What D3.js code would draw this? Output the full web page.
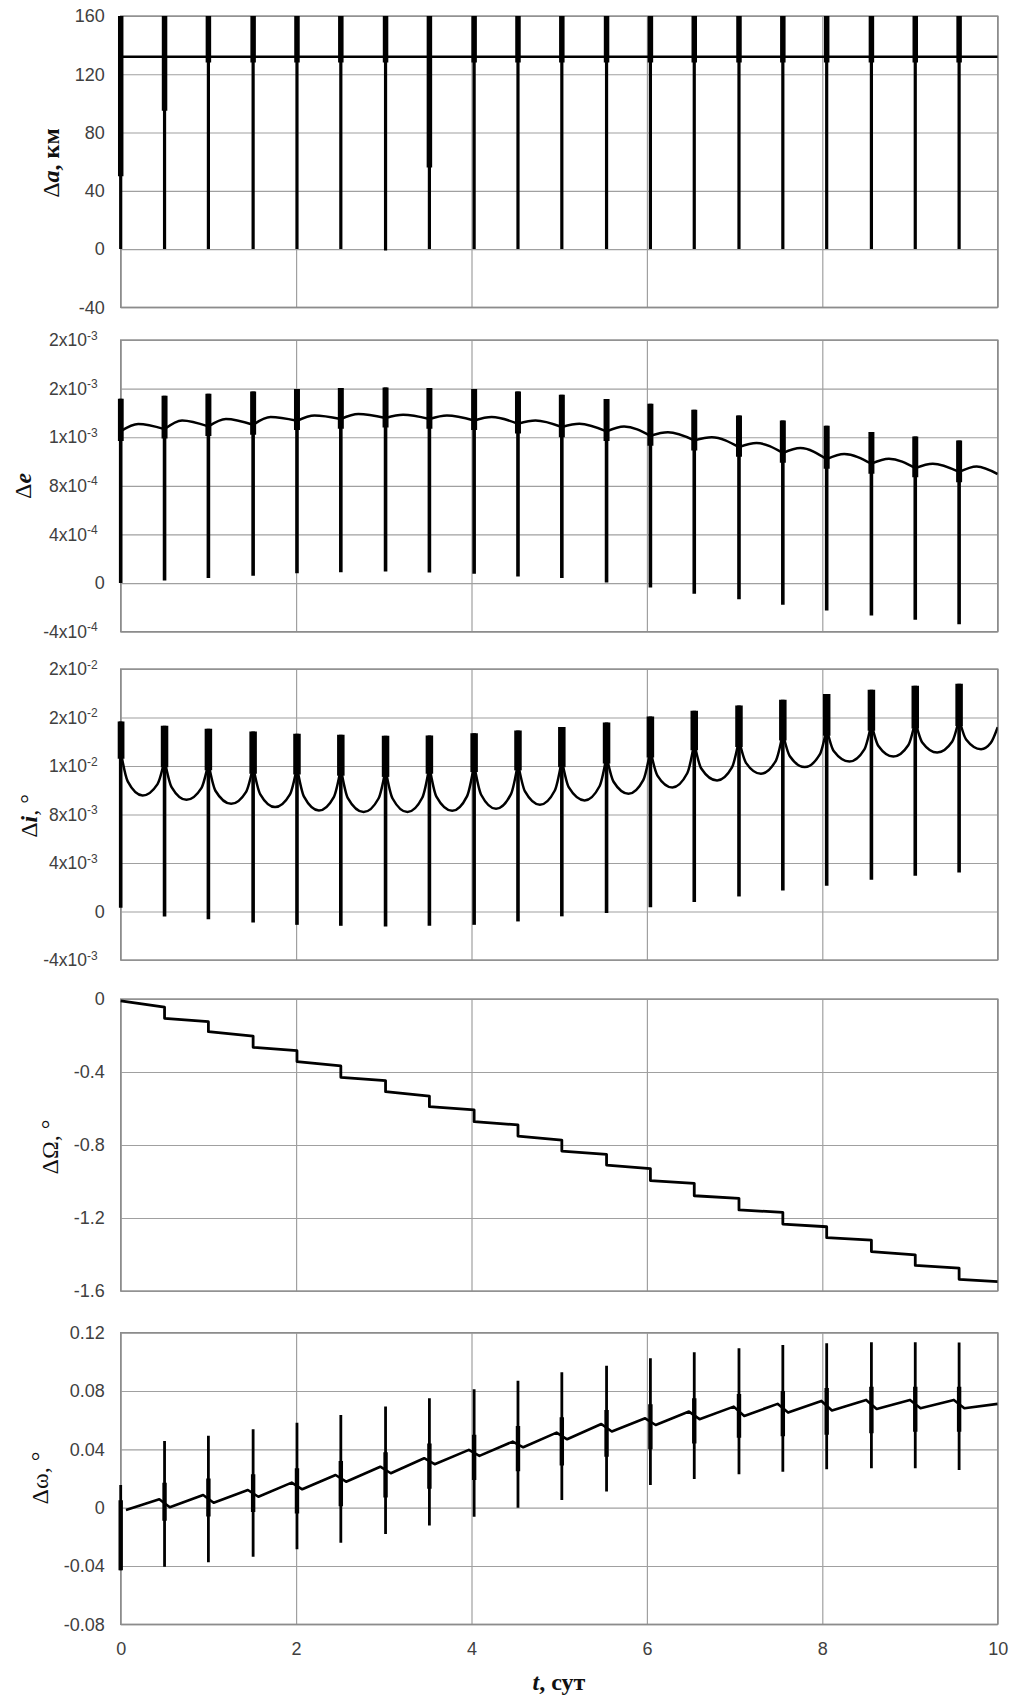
<!DOCTYPE html>
<html>
<head>
<meta charset="utf-8">
<script src="https://cdn.jsdelivr.net/npm/d3@7"></script>
<style>
body { margin: 0; background: #fff; }
svg { display: block; }
.grid .domain { display: none; }
.grid line { stroke: #a0a0a0; stroke-width: 1.2; }
.grid text { font-family: "Liberation Sans", Arial, sans-serif; font-size: 18px; fill: #404040; }
.ytitle, .xtitle { font-family: "Liberation Serif", "Times New Roman", serif; font-size: 24px; fill: #111; }
</style>
</head>
<body>
<script>
// days of the spikes (same for all five panels)
var spikeDays = [0, 0.50, 1.00, 1.51, 2.01, 2.51, 3.02, 3.52, 4.03, 4.53, 5.03, 5.54, 6.04, 6.54, 7.05, 7.55, 8.05, 8.56, 9.06, 9.56];
var xTicks = [0, 2, 4, 6, 8, 10];

// --- Δa, km
var aTicks = [-40, 0, 40, 80, 120, 160];
var aLevel = [[0, 132], [10, 132]];
var aSpikeHi = [160, 160, 160, 160, 160, 160, 160, 160, 160, 160, 160, 160, 160, 160, 160, 160, 160, 160, 160, 160];
var aSpikeLo = [0, 0, 0, 0, 0, 0, -1, 0, 0, 0, 0, 0, 0, 0, 0, 0, 0, 0, 0, 0];
var aBandLo = [50, 95, 128, 128, 128, 128, 128, 56, 128, 128, 128, 128, 128, 128, 128, 128, 128, 128, 128, 128];

// --- Δe, in units of 1e-3
var eTicks = [-0.4, 0, 0.4, 0.8, 1.2, 1.6, 2.0];
var eTickLabels = ["-4x10^-4", "0", "4x10^-4", "8x10^-4", "1x10^-3", "2x10^-3", "2x10^-3"];
var eDip = [1.25, 1.267, 1.289, 1.303, 1.335, 1.35, 1.358, 1.35, 1.338, 1.311, 1.284, 1.248, 1.212, 1.174, 1.119, 1.07, 1.02, 0.982, 0.946, 0.914, 0.897];
var ePeak = [[0.2, 1.309], [0.7, 1.338], [1.2, 1.35], [1.71, 1.366], [2.21, 1.379], [2.71, 1.391], [3.22, 1.385], [3.72, 1.379], [4.23, 1.366], [4.73, 1.338],
             [5.23, 1.311], [5.74, 1.289], [6.24, 1.24], [6.74, 1.2], [7.25, 1.152], [7.75, 1.111], [8.25, 1.062], [8.76, 1.023], [9.26, 0.982], [9.76, 0.96]];
var eSpikeHi = [1.517, 1.542, 1.558, 1.577, 1.597, 1.605, 1.61, 1.605, 1.597, 1.577, 1.55, 1.514, 1.476, 1.426, 1.379, 1.338, 1.295, 1.243, 1.207, 1.174];
var eSpikeLo = [0.0, 0.021, 0.041, 0.06, 0.08, 0.09, 0.096, 0.087, 0.077, 0.055, 0.041, 0.005, -0.036, -0.088, -0.132, -0.179, -0.225, -0.267, -0.302, -0.338];
var eBandLo = [1.17, 1.19, 1.21, 1.22, 1.26, 1.27, 1.28, 1.27, 1.26, 1.23, 1.2, 1.17, 1.13, 1.09, 1.04, 0.99, 0.94, 0.9, 0.87, 0.83];

// --- Δi, in units of 1e-3 deg
var iTicks = [-4, 0, 4, 8, 12, 16, 20];
var iTickLabels = ["-4x10^-3", "0", "4x10^-3", "8x10^-3", "1x10^-2", "2x10^-2", "2x10^-2"];
var iJoin = [13.2, 12.5, 12.24, 11.96, 11.9, 11.8, 11.7, 11.96, 12.1, 12.24, 12.5, 12.8, 13.3, 13.9, 14.16, 14.7, 15.1, 15.5, 15.7, 15.9, 15.21];
var iMin = [[0.25, 9.57], [0.75, 9.21], [1.26, 8.88], [1.76, 8.61], [2.26, 8.33], [2.77, 8.2], [3.27, 8.2], [3.78, 8.3], [4.28, 8.47], [4.78, 8.8],
            [5.29, 9.16], [5.79, 9.71], [6.29, 10.23], [6.8, 10.8], [7.3, 11.36], [7.8, 11.91], [8.31, 12.37], [8.81, 12.78], [9.31, 13.11], [9.81, 13.39]];
// value of the U curve 0.08 day after / before each spike
var iWall = [[10.73, 10.51], [10.26, 10.18], [9.96, 9.87], [9.68, 9.66], [9.47, 9.44], [9.35, 9.32], [9.32, 9.40], [9.47, 9.52], [9.63, 9.68], [9.90, 9.98],
             [10.23, 10.33], [10.70, 10.86], [11.21, 11.40], [11.79, 11.88], [12.26, 12.43], [12.80, 12.93], [13.24, 13.37], [13.65, 13.71], [13.94, 14.0], [14.19, 13.9]];
var iSpikeHi = [15.67, 15.32, 15.07, 14.85, 14.66, 14.57, 14.49, 14.52, 14.71, 14.93, 15.21, 15.59, 16.08, 16.55, 16.99, 17.46, 17.93, 18.28, 18.61, 18.78];
var iSpikeLo = [0.3, -0.41, -0.63, -0.9, -1.1, -1.18, -1.24, -1.18, -1.1, -0.82, -0.4, -0.13, 0.36, 0.78, 1.24, 1.73, 2.12, 2.61, 2.94, 3.22];

// --- ΔΩ, deg (value at start and end of each step)
var oTicks = [-1.6, -1.2, -0.8, -0.4, 0];
var oStart = [-0.01, -0.106, -0.179, -0.265, -0.343, -0.429, -0.508, -0.59, -0.672, -0.751, -0.833, -0.91, -0.995, -1.078, -1.156, -1.233, -1.308, -1.384, -1.46, -1.536];
var oEnd = [-0.045, -0.124, -0.203, -0.283, -0.367, -0.447, -0.532, -0.608, -0.69, -0.773, -0.851, -0.929, -1.01, -1.092, -1.169, -1.248, -1.321, -1.402, -1.475, -1.549];

// --- Δω, deg
var wTicks = [-0.08, -0.04, 0, 0.04, 0.08, 0.12];
var wCurve = [[0.06, -0.0016], [0.44, 0.0058], [0.56, 0.0003], [0.94, 0.0087], [1.06, 0.0034], [1.45, 0.0121], [1.57, 0.0075], [1.95, 0.0172],
              [2.07, 0.0126], [2.45, 0.0224], [2.57, 0.0178], [2.96, 0.0281], [3.08, 0.0236], [3.46, 0.0339], [3.58, 0.0298], [3.97, 0.0396],
              [4.09, 0.0355], [4.47, 0.0453], [4.59, 0.0414], [4.97, 0.0515], [5.09, 0.0469], [5.48, 0.0574], [5.60, 0.0522], [5.98, 0.0613],
              [6.10, 0.0567], [6.48, 0.0659], [6.60, 0.0607], [6.99, 0.0693], [7.11, 0.0629], [7.49, 0.0712], [7.61, 0.0652], [7.99, 0.0732],
              [8.11, 0.0666], [8.50, 0.0739], [8.62, 0.0677], [9.00, 0.0739], [9.12, 0.0682], [9.50, 0.0739], [9.62, 0.0682], [10.0, 0.0712]];
var wSpikeHi = [0.0155, 0.0458, 0.0494, 0.0538, 0.0583, 0.0636, 0.0693, 0.0751, 0.0812, 0.0871, 0.0929, 0.0974, 0.1025, 0.1066, 0.1094, 0.1116, 0.1128, 0.1135, 0.1135, 0.1132];
var wSpikeLo = [-0.043, -0.0405, -0.0375, -0.0336, -0.0286, -0.024, -0.018, -0.0123, -0.0062, 0.0, 0.0053, 0.011, 0.0156, 0.0197, 0.0229, 0.0247, 0.0263, 0.027, 0.027, 0.0259];
var wBandHi = [0.005, 0.017, 0.020, 0.023, 0.027, 0.032, 0.038, 0.044, 0.050, 0.056, 0.062, 0.067, 0.071, 0.075, 0.078, 0.080, 0.082, 0.083, 0.083, 0.083];
var wBandLo = [-0.043, -0.009, -0.006, -0.003, -0.004, 0.001, 0.007, 0.013, 0.019, 0.025, 0.029, 0.035, 0.040, 0.044, 0.048, 0.049, 0.050, 0.051, 0.052, 0.052];

var W = 1016, H = 1697;
var plotLeft = 120.7, plotRight = 997.7;

var svg = d3.select("body").append("svg").attr("width", W).attr("height", H);
var x = d3.scaleLinear().domain([0, 10]).range([plotLeft, plotRight]);

// grid, border, labels of one panel; returns clipped group + y scale
function panel(id, top, bottom, domain, ticks, labels, showX) {
    var y = d3.scaleLinear().domain(domain).range([bottom, top]);
    var g = svg.append("g").attr("class", "panel " + id);

    var xa = g.append("g").attr("class", "grid")
        .attr("transform", "translate(0," + bottom + ")")
        .call(d3.axisBottom(x).tickValues(xTicks).tickSize(-(bottom - top)).tickPadding(15)
            .tickFormat(showX ? d3.format("d") : ""));
    xa.selectAll("text").attr("dy", "0.9em");

    var ya = g.append("g").attr("class", "grid")
        .attr("transform", "translate(" + plotLeft + ",0)")
        .call(d3.axisLeft(y).tickValues(ticks).tickSize(-(plotRight - plotLeft)).tickPadding(16)
            .tickFormat(function (d, i) { return labels ? labels[i] : String(d); }));

    // mantissa x10 with a raised exponent
    ya.selectAll("text").each(function (d, i) {
        if (!labels) return;
        var parts = labels[i].split("^");
        if (parts.length < 2) return;
        var t = d3.select(this).text(null).attr("x", -23).style("font-size", "17.5px");
        t.append("tspan").text(parts[0]);
        t.append("tspan").attr("dy", "-0.55em").style("font-size", "12px").text(parts[1]);
    });

    g.append("rect")
        .attr("x", plotLeft).attr("y", top)
        .attr("width", plotRight - plotLeft).attr("height", bottom - top)
        .attr("fill", "none").attr("stroke", "#8c8c8c").attr("stroke-width", 1.4);

    g.append("clipPath").attr("id", "clip-" + id)
        .append("rect").attr("x", plotLeft - 3).attr("y", top).attr("width", plotRight - plotLeft + 3).attr("height", bottom - top);

    var plot = g.append("g").attr("clip-path", "url(#clip-" + id + ")");
    return {g: plot, y: y};
}

function spikes(p, rows, width, cls) {
    p.g.selectAll("line." + cls).data(rows).enter().append("line")
        .attr("class", cls)
        .attr("x1", function (d) { return x(d.t); })
        .attr("x2", function (d) { return x(d.t); })
        .attr("y1", function (d) { return p.y(d.hi); })
        .attr("y2", function (d) { return p.y(d.lo); })
        .attr("stroke", "#000").attr("stroke-width", width);
}

function curve(p, pts, width, kind) {
    p.g.append("path").datum(pts)
        .attr("d", d3.line().x(function (d) { return x(d[0]); }).y(function (d) { return p.y(d[1]); }).curve(kind || d3.curveLinear))
        .attr("fill", "none").attr("stroke", "#000").attr("stroke-width", width)
        .attr("stroke-linejoin", "round");
}

// ---------- panel 1: Δa
var p1 = panel("a", 16, 307.3, [-40, 160], aTicks, null, false);
curve(p1, aLevel, 2.6);
spikes(p1, spikeDays.map(function (t, i) { return {t: t, hi: aSpikeHi[i], lo: aSpikeLo[i]}; }), 3.2, "full");
spikes(p1, spikeDays.map(function (t, i) { return {t: t, hi: aSpikeHi[i], lo: aBandLo[i]}; }), 5.5, "band");

// ---------- panel 2: Δe
var p2 = panel("e", 340, 631.7, [-0.4, 2.0], eTicks, eTickLabels, false);
ePeak.forEach(function (pk, k) {
    var t1 = k + 1 < spikeDays.length ? spikeDays[k + 1] : 10;
    curve(p2, [[spikeDays[k], eDip[k]], pk, [t1, eDip[k + 1]]], 2.5, d3.curveMonotoneX);
});
spikes(p2, spikeDays.map(function (t, i) { return {t: t, hi: eSpikeHi[i], lo: eSpikeLo[i]}; }), 3.6, "full");
spikes(p2, spikeDays.map(function (t, i) { return {t: t, hi: eSpikeHi[i], lo: eBandLo[i]}; }), 6, "band");

// ---------- panel 3: Δi
var p3 = panel("i", 669, 960, [-4, 20], iTicks, iTickLabels, false);
iMin.forEach(function (mn, k) {
    var t0 = spikeDays[k];
    var t1 = k + 1 < spikeDays.length ? spikeDays[k + 1] : 10;
    curve(p3, [[t0, iJoin[k]], [t0 + 0.08, iWall[k][0]], mn, [t1 - 0.08, iWall[k][1]], [t1, iJoin[k + 1]]], 2.5, d3.curveMonotoneX);
});
spikes(p3, spikeDays.map(function (t, i) { return {t: t, hi: iSpikeHi[i], lo: iSpikeLo[i]}; }), 3.6, "full");
spikes(p3, spikeDays.map(function (t, i) { return {t: t, hi: iSpikeHi[i], lo: iJoin[i] - 0.6}; }), 7.5, "band");

// ---------- panel 4: ΔΩ
var p4 = panel("o", 999, 1291, [-1.6, 0], oTicks, null, false);
var steps = [];
spikeDays.forEach(function (t, k) {
    var t1 = k + 1 < spikeDays.length ? spikeDays[k + 1] : 10;
    steps.push([t, oStart[k]]);
    steps.push([t1, oEnd[k]]);
});
curve(p4, steps, 2.8);

// ---------- panel 5: Δω
var p5 = panel("w", 1332.7, 1624.3, [-0.08, 0.12], wTicks, null, true);
curve(p5, wCurve, 2.6);
spikes(p5, spikeDays.map(function (t, i) { return {t: t, hi: wSpikeHi[i], lo: wSpikeLo[i]}; }), 2.8, "full");
spikes(p5, spikeDays.map(function (t, i) { return {t: t, hi: wBandHi[i], lo: wBandLo[i]}; }), 4.4, "band");

// ---------- axis titles
function ytitle(cx, cy, parts) {
    var t = svg.append("text").attr("class", "ytitle")
        .attr("transform", "translate(" + cx + "," + cy + ") rotate(-90)")
        .attr("text-anchor", "middle");
    parts.forEach(function (p) {
        t.append("tspan").text(p[0])
            .style("font-weight", p[1] ? "bold" : "normal")
            .style("font-style", p[2] ? "italic" : "normal");
    });
}
ytitle(59, 163, [["Δ", 0, 0], ["a", 1, 1], [", км", 1, 0]]);
ytitle(31, 486, [["Δ", 0, 0], ["e", 1, 1]]);
ytitle(37, 816, [["Δ", 0, 0], ["i", 1, 1], [", °", 0, 0]]);
ytitle(58, 1147, [["ΔΩ, °", 0, 0]]);
ytitle(48, 1478, [["Δω, °", 0, 0]]);

var xt = svg.append("text").attr("class", "xtitle")
    .attr("x", 559).attr("y", 1690).attr("text-anchor", "middle");
xt.append("tspan").text("t").style("font-weight", "bold").style("font-style", "italic");
xt.append("tspan").text(", сут").style("font-weight", "bold");
</script>
</body>
</html>
